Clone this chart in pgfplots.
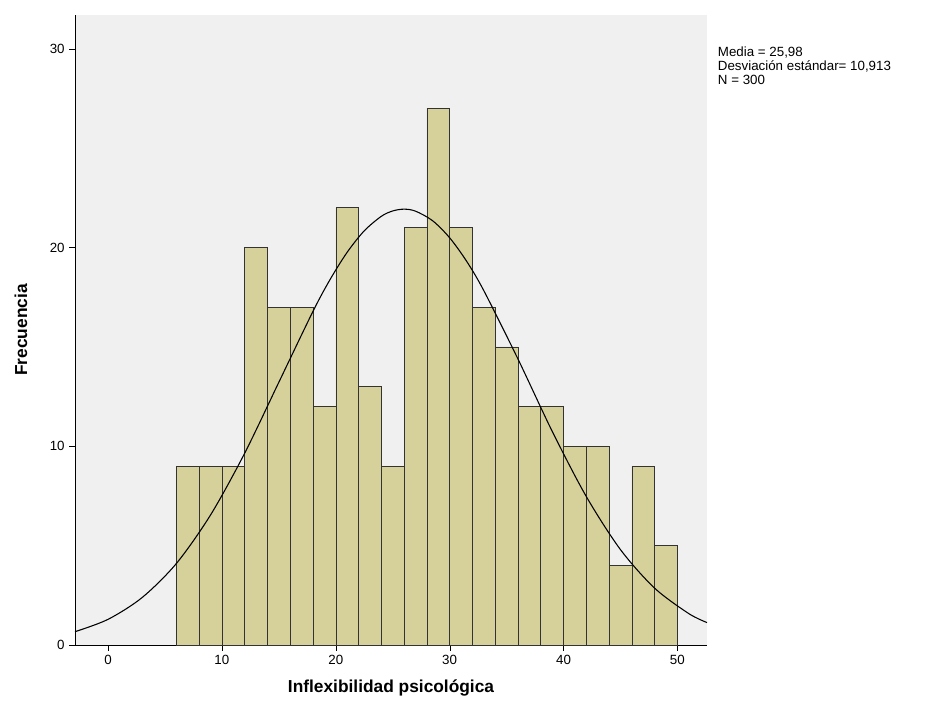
\documentclass[border=0pt]{standalone}
\usepackage{pgfplots}
\pgfplotsset{compat=1.18}
\usepackage{fontspec}
\setmainfont{Liberation Sans}
\definecolor{barc}{RGB}{214,208,154}
\definecolor{bg}{RGB}{240,240,240}
\begin{document}
\begin{tikzpicture}
\useasboundingbox (-56.25pt,-50.25pt) rectangle (647.25pt,483.75pt);
\begin{axis}[
  at={(0,0)}, anchor=south west,
  scale only axis, width=474pt, height=472.5pt,
  xmin=-2.9, xmax=52.6, ymin=0, ymax=31.7,
  axis lines=left, axis line style={-},
  axis background/.style={fill=bg},
  xtick={0,10,...,50}, ytick={0,10,20,30},
  tick align=outside, tick style={black},
  ticklabel style={font=\fontsize{10}{12}\selectfont},
  /pgf/number format/assume math mode=true,
  xlabel={\bfseries Inflexibilidad psicológica},
  ylabel={\bfseries Frecuencia},
  label style={font=\fontsize{13}{15}\selectfont},
  xlabel style={yshift=-4pt},
  ylabel style={yshift=10pt},
  clip=false,
]
\addplot[ybar interval, fill=barc, draw=black!80] coordinates {
(6,9)(8,9)(10,9)(12,20)(14,17)(16,17)(18,12)(20,22)(22,13)(24,9)(26,21)(28,27)(30,21)(32,17)(34,15)(36,12)(38,12)(40,10)(42,10)(44,4)(46,9)(48,5)(50,5)};
\addplot[smooth, black, thick] coordinates {
(-2.9,0.67)(0,1.29)(3,2.39)(6,4.10)(9,6.54)(12,9.65)(15,13.22)(18,16.79)(19.5,18.39)(21,19.76)(22.5,20.84)(24,21.57)(25,21.84)(26,21.93)(27,21.83)(28.5,21.35)(30,20.49)(31.5,19.30)(33,17.83)(36,14.39)(39,10.76)(42,7.47)(45,4.80)(48,2.86)(51,1.58)(52.6,1.13)};
\end{axis}
\node[anchor=north west, align=left, inner sep=0pt, font=\fontsize{10}{10.5}\selectfont] at (482pt,449pt)
{Media = 25,98\\Desviación estándar= 10,913\\N = 300};
\end{tikzpicture}
\end{document}
